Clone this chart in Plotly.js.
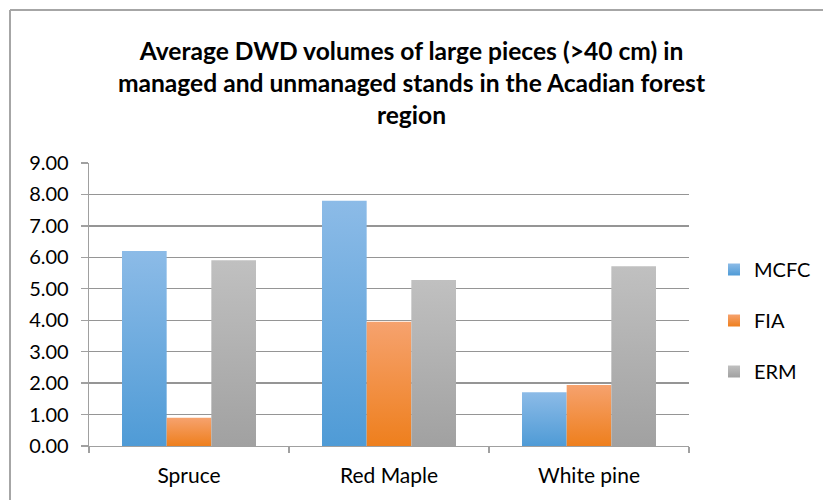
<!DOCTYPE html>
<html>
<head>
<meta charset="utf-8">
<script src="https://cdn.plot.ly/plotly-3.0.1.min.js"></script>
<style>
  html, body { margin: 0; padding: 0; background: #ffffff; }
  #chart { width: 823px; height: 500px; }
</style>
</head>
<body>
<div id="chart"></div>
<script>
// Stand types along the x axis
const categories = ['Spruce', 'Red Maple', 'White pine'];

// Average DWD volumes of large pieces (>40 cm) per data source
const mcfc = [6.20, 7.80, 1.71];
const fia  = [0.90, 3.95, 1.94];
const erm  = [5.91, 5.28, 5.72];

const seriesNames = ['MCFC', 'FIA', 'ERM'];

// Solid fallback colours plus top/bottom gradient stops for each series
const fills = {
  MCFC: { mid: '#62a6df', top: '#8cbbe7', bottom: '#4f9bd6' },
  FIA:  { mid: '#f7923a', top: '#f6a26e', bottom: '#ee7f1d' },
  ERM:  { mid: '#b1b1b1', top: '#c0c0c0', bottom: '#a1a1a1' }
};

const FONT = 'Lato, "Open Sans", sans-serif';

const traces = [mcfc, fia, erm].map((vals, i) => ({
  type: 'bar',
  name: seriesNames[i],
  x: categories,
  y: vals,
  legendgroup: seriesNames[i],
  marker: { color: fills[seriesNames[i]].mid, line: { width: 0 } },
  hoverinfo: 'x+y+name'
}));

const layout = {
  width: 823,
  height: 500,
  paper_bgcolor: '#ffffff',
  plot_bgcolor: '#ffffff',
  margin: { l: 89, r: 134, t: 163, b: 54 },
  font: { family: FONT, color: '#000000', size: 20 },
  title: {
    text: 'Average DWD volumes of large pieces (>40 cm) in<br>managed and unmanaged stands in the Acadian forest<br>region',
    font: { family: FONT, size: 24.6, color: '#000000', weight: 'bold' },
    x: 0.5,
    xref: 'container',
    xanchor: 'center',
    y: 1 - 60 / 500,
    yref: 'container',
    yanchor: 'top'
  },
  barmode: 'group',
  bargap: 0.33,
  bargroupgap: 0,
  xaxis: {
    type: 'category',
    tickson: 'boundaries',
    ticks: 'outside',
    ticklen: 6,
    tickcolor: '#a0a0a0',
    tickwidth: 1.3,
    showline: true,
    linecolor: '#a0a0a0',
    linewidth: 1.3,
    showgrid: false,
    tickfont: { family: FONT, size: 21, color: '#000000' },
    ticklabelstandoff: 10
  },
  yaxis: {
    range: [0, 9],
    dtick: 1,
    tick0: 0,
    tickformat: '.2f',
    ticks: 'outside',
    ticklen: 7,
    tickcolor: '#a0a0a0',
    tickwidth: 1.3,
    showline: true,
    linecolor: '#a0a0a0',
    linewidth: 1.3,
    showgrid: true,
    gridcolor: '#959595',
    gridwidth: 1.4,
    zeroline: false,
    tickfont: { family: FONT, size: 20, color: '#000000' },
    ticklabelstandoff: 8
  },
  legend: {
    x: 714 / 823,
    xref: 'container',
    xanchor: 'left',
    y: 1 - 250 / 500,
    yref: 'container',
    yanchor: 'top',
    traceorder: 'grouped',
    tracegroupgap: 22,
    font: { family: FONT, size: 20, color: '#000000' },
    bgcolor: 'rgba(0,0,0,0)',
    itemwidth: 30
  },
  shapes: [
    // outer chart frame (top and left edges)
    { type: 'line', xref: 'paper', yref: 'paper',
      x0: -79 / 600, x1: 760 / 600, y0: 1 + 153 / 283, y1: 1 + 153 / 283,
      line: { color: '#a6a6a6', width: 2 } },
    { type: 'line', xref: 'paper', yref: 'paper',
      x0: -79 / 600, x1: -79 / 600, y0: 1 + 153 / 283, y1: -80 / 283,
      line: { color: '#a6a6a6', width: 2 } }
  ],
  showlegend: true
};

// Vertical gradients on the bar and legend swatch fills
function applyGradients(gd) {
  const svg = gd.querySelector('svg.main-svg');
  if (!svg) return;
  const NS = 'http://www.w3.org/2000/svg';
  let defs = svg.querySelector('defs');
  if (!defs) { defs = document.createElementNS(NS, 'defs'); svg.insertBefore(defs, svg.firstChild); }
  seriesNames.forEach(name => {
    const id = 'grad-' + name;
    if (svg.querySelector('#' + id)) return;
    const g = document.createElementNS(NS, 'linearGradient');
    g.setAttribute('id', id);
    g.setAttribute('x1', '0'); g.setAttribute('y1', '0');
    g.setAttribute('x2', '0'); g.setAttribute('y2', '1');
    [['0%', fills[name].top], ['100%', fills[name].bottom]].forEach(([off, col]) => {
      const s = document.createElementNS(NS, 'stop');
      s.setAttribute('offset', off);
      s.setAttribute('stop-color', col);
      g.appendChild(s);
    });
    defs.appendChild(g);
  });
  const traceGroups = gd.querySelectorAll('.barlayer .trace');
  traceGroups.forEach((tg, i) => {
    const name = seriesNames[i];
    tg.querySelectorAll('path').forEach(p => { p.style.fill = 'url(#grad-' + name + ')'; });
  });
  const legendItems = gd.querySelectorAll('.legend .traces');
  legendItems.forEach((li, i) => {
    const name = seriesNames[i];
    li.querySelectorAll('.legendpoints path').forEach(p => { p.style.fill = 'url(#grad-' + name + ')'; });
  });
}

const gd = document.getElementById('chart');
Plotly.newPlot(gd, traces, layout, { displayModeBar: false, staticPlot: true }).then(applyGradients);
</script>
</body>
</html>
